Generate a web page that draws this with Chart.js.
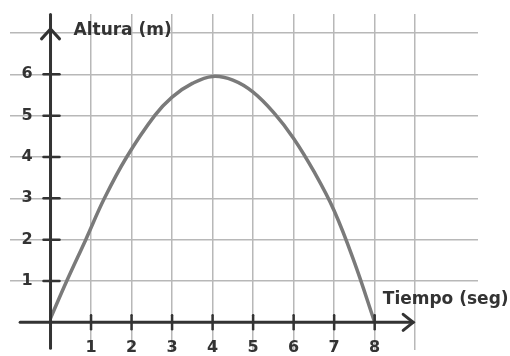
<!DOCTYPE html>
<html>
<head>
<meta charset="utf-8">
<script src="https://cdn.jsdelivr.net/npm/chart.js@4"></script>
<style>
  html, body { margin: 0; padding: 0; background: #fff; }
  #chart { display: block; }
</style>
</head>
<body>
<canvas id="chart" width="510" height="356"></canvas>
<script>
// --- data ---
const tiempo = [0, 0.4, 0.87, 1.33, 1.88, 2.57, 3, 3.5, 4, 4.5, 5, 5.53, 6, 6.5, 7, 7.5, 8];
const altura = [0.1, 1, 2, 3, 4, 5, 5.45, 5.78, 5.95, 5.86, 5.57, 5.05, 4.45, 3.65, 2.7, 1.45, 0];

const xTicks = [1, 2, 3, 4, 5, 6, 7, 8];
const yTicks = [1, 2, 3, 4, 5, 6];
const xTitle = "Tiempo (seg)";
const yTitle = "Altura (m)";

const INK = "#333";
const GRID = "#b8b8b8";

function gridColor(lo, hi) {
  return c => {
    const v = c.tick.value;
    return Number.isInteger(v) && v >= lo && v <= hi ? GRID : "transparent";
  };
}

// -------------------------------
// axes with arrows, tick marks, labels
// -------------------------------
const axesPlugin = {
  id: "axes",
  afterDatasetsDraw(chart) {
    const { ctx } = chart;
    const x = chart.scales.x, y = chart.scales.y;
    const x0 = x.getPixelForValue(0), y0 = y.getPixelForValue(0);

    ctx.save();
    ctx.strokeStyle = INK;
    ctx.fillStyle = INK;
    ctx.lineCap = "round";

    // x axis
    const xEnd = x.getPixelForValue(8.95);
    ctx.lineWidth = 3;
    ctx.beginPath();
    ctx.moveTo(x.getPixelForValue(-0.75), y0);
    ctx.lineTo(xEnd, y0);
    ctx.stroke();
    ctx.beginPath();
    ctx.moveTo(xEnd - 10, y0 - 8);
    ctx.lineTo(xEnd, y0);
    ctx.lineTo(xEnd - 10, y0 + 8);
    ctx.stroke();

    // y axis
    const yTop = y.getPixelForValue(7.1);
    ctx.beginPath();
    ctx.moveTo(x0, y.getPixelForValue(-0.63));
    ctx.lineTo(x0, y.getPixelForValue(7.45));
    ctx.stroke();
    ctx.beginPath();
    ctx.moveTo(x0 - 9, yTop + 10);
    ctx.lineTo(x0, yTop);
    ctx.lineTo(x0 + 9, yTop + 10);
    ctx.stroke();

    // tick marks
    ctx.lineWidth = 2.5;
    xTicks.forEach(v => {
      const px = x.getPixelForValue(v);
      ctx.beginPath();
      ctx.moveTo(px, y0 - 7);
      ctx.lineTo(px, y0 + 7);
      ctx.stroke();
    });
    yTicks.forEach(v => {
      const py = y.getPixelForValue(v);
      ctx.beginPath();
      ctx.moveTo(x0 - 7, py);
      ctx.lineTo(x0 + 9, py);
      ctx.stroke();
    });

    // tick labels
    ctx.font = "bold 16px 'DejaVu Sans'";
    ctx.textAlign = "center";
    ctx.textBaseline = "middle";
    xTicks.forEach(v => ctx.fillText(String(v), x.getPixelForValue(v), y0 + 26));
    ctx.textAlign = "right";
    yTicks.forEach(v => ctx.fillText(String(v), x0 - 18, y.getPixelForValue(v)));

    // axis titles
    ctx.font = "bold 17px 'DejaVu Sans'";
    ctx.textAlign = "left";
    ctx.fillText(yTitle, x0 + 23, y.getPixelForValue(7.05));
    ctx.fillText(xTitle, x.getPixelForValue(8.2), y.getPixelForValue(0.55));
    ctx.restore();
  }
};

new Chart(document.getElementById("chart").getContext("2d"), {
  type: "scatter",
  data: {
    datasets: [
      {
        label: yTitle,
        data: tiempo.map((t, i) => ({ x: t, y: altura[i] })),
        showLine: true,
        borderColor: "#7a7a7a",
        borderWidth: 3.5,
        pointRadius: 0,
        tension: 0.4
      }
    ]
  },
  options: {
    responsive: false,
    animation: false,
    layout: { padding: { left: 10, top: 14, right: 32, bottom: 6 } },
    plugins: {
      legend: { display: false },
      tooltip: { enabled: false }
    },
    scales: {
      x: {
        type: "linear",
        min: -1,
        max: 10.55,
        ticks: { display: false, stepSize: 1 },
        grid: { color: gridColor(1, 10), lineWidth: 1.5, drawTicks: false },
        border: { display: false }
      },
      y: {
        min: -0.67,
        max: 7.46,
        ticks: { display: false, stepSize: 1 },
        grid: { color: gridColor(1, 7), lineWidth: 1.5, drawTicks: false },
        border: { display: false }
      }
    }
  },
  plugins: [axesPlugin]
});
</script>
</body>
</html>
